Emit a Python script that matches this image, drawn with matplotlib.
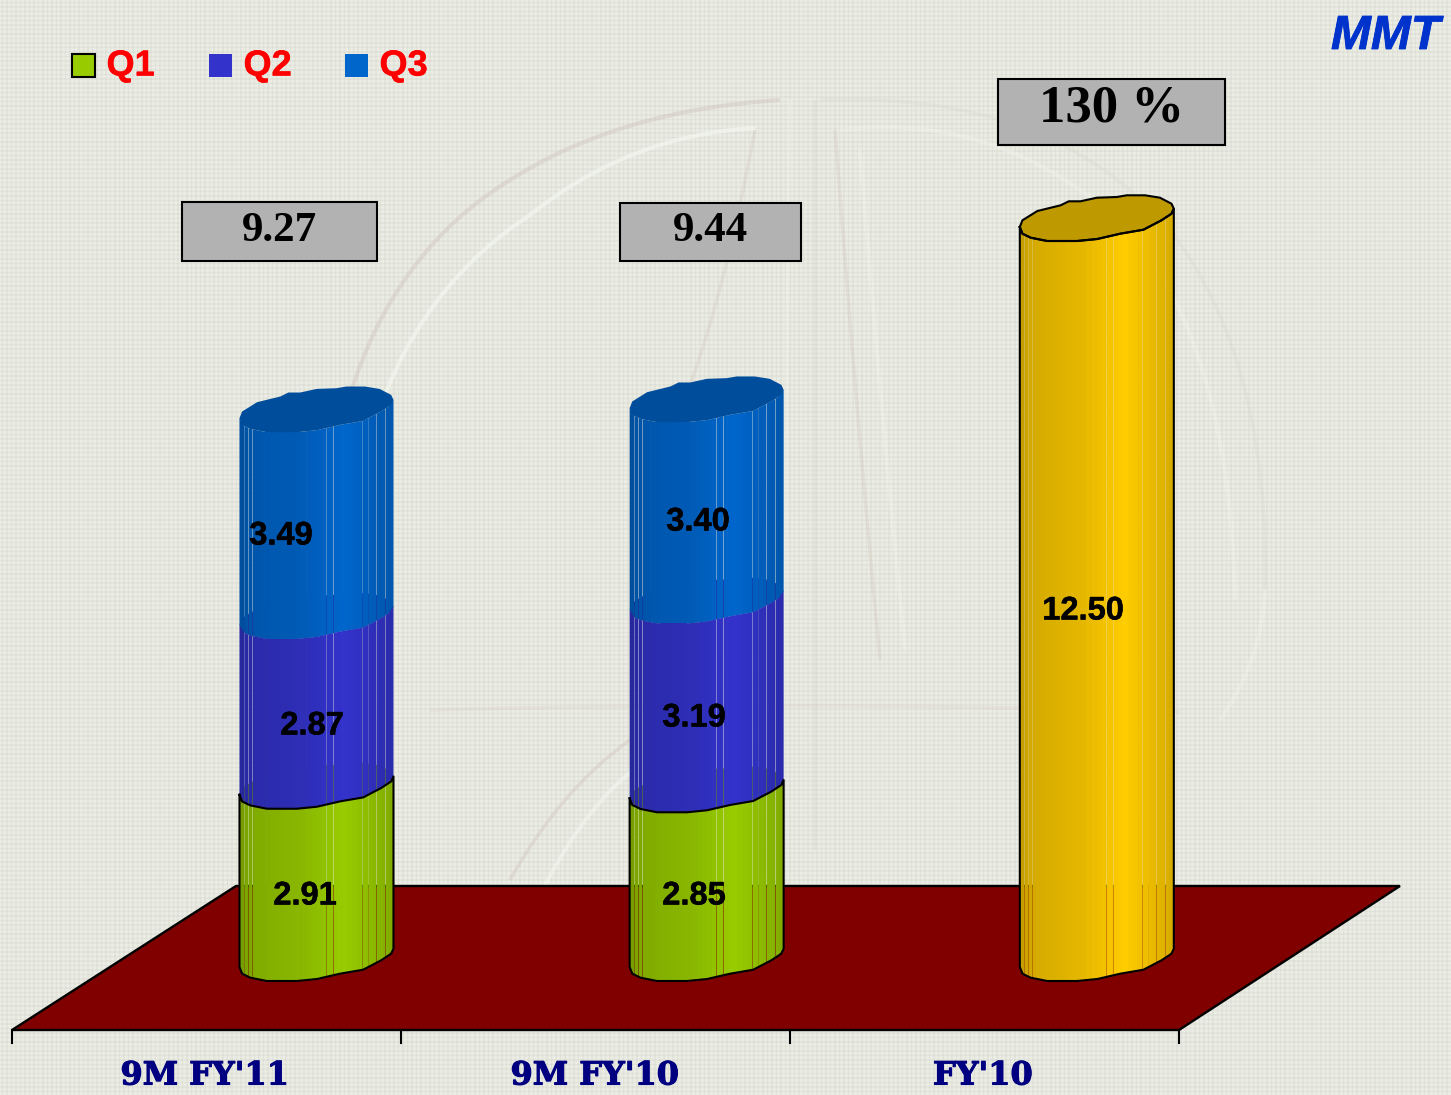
import numpy as np
import matplotlib
matplotlib.use("Agg")
import matplotlib.pyplot as plt
import matplotlib.patheffects as pe
from matplotlib.patches import Polygon, Rectangle, PathPatch
from matplotlib.path import Path

categories = ["9M FY'11", "9M FY'10", "FY'10"]
q1 = [2.91, 2.85]
q2 = [2.87, 3.19]
q3 = [3.49, 3.40]
fy_total = 12.50
box_labels = ["9.27", "9.44", "130 %"]
legend_names = ["Q1", "Q2", "Q3"]

W, H = 1451, 1095
px_per_cat = 389.0
px_per_val = 59.2
x0_px = 11.5
y0_px = 967.0
half_w = 77.0 / px_per_cat
cyl_offset = [0.784, 0.787, 0.79]

# outline of a column end, px relative to its left end (x fraction, px upward)
front_f = [0, .017, .071, .178, .372, .503, .652, .803, .92, .985, 1]
front_d = [0, -6.7, -10.7, -14, -14, -12, -6.7, -2.7, 6.7, 13.3, 18.3]
back_f = [0, .017, .114, .265, .318, .394, .501, .63, .695, .813, .91, .985, 1]
back_d = [0, 6.7, 16, 21.7, 25.7, 25.7, 29.3, 30, 31.7, 31.7, 29.3, 23.3, 18.3]
seams = np.array([5, 9, 13, 87, 94, 113, 123, 129, 137, 146]) / 154.0

green = "#99CC00"
purple = "#3333CC"
blue = "#0066CC"
yellow = "#FFCC00"
maroon = "#800000"

fig = plt.figure(figsize=(W / 100, H / 100), dpi=100)
bg = fig.add_axes([0, 0, 1, 1])
bg.set_xlim(0, W)
bg.set_ylim(H, 0)
bg.axis("off")

# paper texture
bg.add_patch(Rectangle((0, 0), W, H, fc="#EBECE4", ec="none", zorder=0))
for i, y in enumerate(np.arange(2, H, 4.5)):
    bg.plot([0, W], [y, y], color="#CFD0C4", lw=1.3 if i % 2 else 0.8, alpha=0.3, zorder=1)
for i, x in enumerate(np.arange(2, W, 4.5)):
    bg.plot([x, x], [0, H], color="#CFD0C4", lw=1.3 if i % 2 else 0.8, alpha=0.3, zorder=1)


def wm(points, color, lw=3, alpha=0.3):
    codes = [Path.MOVETO] + [Path.CURVE3] * (len(points) - 1)
    bg.add_patch(PathPatch(Path(points, codes), fc="none", ec=color, lw=lw, alpha=alpha, zorder=2))


# faint logo behind the chart
pink = "#D0C4BC"
white = "#F6FAF2"
wm([(350, 395), (395, 250), (510, 180), (620, 110), (780, 100)], pink, alpha=0.45)
wm([(385, 395), (430, 280), (530, 215), (630, 135), (755, 128)], white, alpha=0.6)
wm([(755, 130), (725, 290), (690, 385)], pink, lw=2.5)
wm([(790, 100), (785, 500), (782, 850)], white, lw=2.5)
wm([(815, 100), (815, 500), (815, 850)], "#D4D3C8", lw=2.5)
wm([(840, 130), (1000, 110), (1130, 230), (1230, 350), (1235, 600)], white)
wm([(820, 100), (1050, 90), (1170, 230), (1270, 360), (1265, 590)], "#D8D7CC", lw=2.5)
wm([(1265, 590), (1262, 660), (1220, 720)], white)
wm([(860, 150), (880, 400), (905, 650)], white)
wm([(835, 130), (855, 400), (880, 660)], pink, lw=2.5)
wm([(430, 710), (800, 700), (1180, 712)], "#D8D0C8", lw=2.5)
wm([(510, 880), (560, 790), (630, 740)], pink, lw=2.5, alpha=0.4)
wm([(545, 885), (590, 800), (640, 765)], white, alpha=0.5)

# floor
bg.add_patch(Polygon([(12, 1030), (1179, 1030), (1400, 886), (236, 886)], closed=True,
                     fc=maroon, ec="black", lw=1.7, zorder=3, joinstyle="miter"))
for t in range(len(categories) + 1):
    xt = x0_px + t * px_per_cat
    bg.plot([xt, xt], [1030, 1043], color="black", lw=1.5, zorder=3)

# chart axes share the figure, value scale set so the columns sit on the floor
ax = fig.add_axes([0, 0, 1, 1], facecolor="none")
ax.set_xlim(-x0_px / px_per_cat, (W - x0_px) / px_per_cat)
ax.set_ylim((y0_px - H) / px_per_val, y0_px / px_per_val)
ax.axis("off")


def shade(f):
    return np.interp(f, [0, .03, .1, .42, .68, 1], [.74, .8, .84, .9, 1.0, .84])


def scaled(color, k):
    return tuple(c * k for c in matplotlib.colors.to_rgb(color))


def wall(cx, v0, v1, color, seam_px=0.4):
    left = cx - half_w
    gap = seam_px / (2 * half_w * px_per_cat)
    fr = np.unique(np.concatenate([np.linspace(0, 1, 31), seams]))
    for a, b in zip(fr[:-1], fr[1:]):
        hi = b - gap if np.any(np.isclose(b, seams)) else min(b + 0.7 * 1.0 / 154, 1)
        xs = np.array([a, hi])
        low = v0 + np.interp(xs, front_f, front_d) / px_per_val
        top = v1 + np.interp(xs, front_f, front_d) / px_per_val
        px = left + xs * 2 * half_w
        ax.fill([px[0], px[1], px[1], px[0]], [low[0], low[1], top[1], top[0]],
                fc=scaled(color, shade((a + b) / 2)), ec="none", zorder=3)


def end_outline(cx, v):
    fb = np.array(back_f)
    ff = np.array(front_f)[::-1]
    xs = np.concatenate([fb, ff]) * 2 * half_w + cx - half_w
    ys = v + np.concatenate([back_d, np.array(front_d)[::-1]]) / px_per_val
    return xs, ys


def cap(cx, v, color, k):
    xs, ys = end_outline(cx, v)
    ax.fill(xs, ys, fc=scaled(color, k), ec="none", zorder=3)


def front_line(cx, v):
    return (np.array(front_f) * 2 * half_w + cx - half_w,
            v + np.array(front_d) / px_per_val)


def box_outline(cx, v0, v1):
    xa, ya = front_line(cx, v0)
    xb, yb = front_line(cx, v1)
    ax.plot(np.concatenate([xb[:1], xa, xb[::-1]]),
            np.concatenate([yb[:1], ya, yb[::-1]]),
            color="black", lw=1.5, zorder=5, solid_joinstyle="round")


for i in range(2):
    cx = i + cyl_offset[i]
    b1 = q1[i]
    b2 = b1 + q2[i]
    b3 = b2 + q3[i]
    cap(cx, b1, green, 0.75)
    wall(cx, 0, b1, green)
    cap(cx, b2, purple, 0.75)
    wall(cx, b1, b2, purple)
    wall(cx, b2, b3, blue)
    cap(cx, b3, blue, 0.76)
    box_outline(cx, 0, b1)

cx = 2 + cyl_offset[2]
wall(cx, 0, fy_total, yellow, seam_px=0.2)
cap(cx, fy_total, yellow, 0.75)
box_outline(cx, 0, fy_total)
xs, ys = end_outline(cx, fy_total)
ax.plot(xs, ys, color="black", lw=1.5, zorder=5)

# value labels, pixel anchors
sans = "Liberation Sans"
serif = "Liberation Serif"
thicken = [pe.withStroke(linewidth=0.35, foreground="black")]
lab_vals = [q3[0], q2[0], q1[0], q3[1], q2[1], q1[1], fy_total]
lab_pos = [(281, 536), (312, 726), (305, 896), (698, 522), (694, 718), (694, 896), (1083, 611)]
for v, (lx, ly) in zip(lab_vals, lab_pos):
    ax.text(lx, ly, f"{v:.2f}", transform=bg.transData, family=sans, weight="bold",
            fontsize=23.5, ha="center", va="center", color="black", zorder=6, path_effects=thicken)

# total boxes
boxes = [(182, 202, 195, 59), (620, 203, 181, 58), (998, 79, 227, 66)]
box_text_y = [231, 231, 109]
box_text_x = [279, 710, 1112]
box_font = [31, 31, 38]
for (bx, by, bw, bh), s, tx, ty, fs in zip(boxes, box_labels, box_text_x, box_text_y, box_font):
    ax.add_patch(Rectangle((bx, by), bw, bh, transform=bg.transData, fc="#B2B2B2", ec="black",
                           lw=1.5, zorder=6))
    ax.text(tx, ty, s, transform=bg.transData, family=serif, weight="bold", fontsize=fs,
            ha="center", va="center", color="black", zorder=7)

# legend
leg_x = [72, 209, 345]
leg_col = [green, purple, blue]
leg_ec = ["black", "none", "none"]
for lx, name, c, e in zip(leg_x, legend_names, leg_col, leg_ec):
    ax.add_patch(Rectangle((lx, 54), 22.5, 22.5, transform=bg.transData, fc=c, ec=e, lw=1.5, zorder=6))
    ax.text(lx + 34.5, 66, name, transform=bg.transData, family=sans, weight="bold", fontsize=26,
            ha="left", va="center", color="#FF0000", zorder=6,
            path_effects=[pe.withStroke(linewidth=0.35, foreground="#FF0000")])

ax.text(1440, 49, "MMT", transform=bg.transData, family=sans, weight="bold", style="italic",
        fontsize=34.5, ha="right", va="baseline", color="#0033CC", zorder=6,
        path_effects=[pe.withStroke(linewidth=0.6, foreground="#0033CC")])

# category labels
cat_x = [205, 595, 983]
for tx, s in zip(cat_x, categories):
    ax.text(tx, 1076, s, transform=bg.transData, family="DejaVu Serif", weight="bold", fontsize=23,
            ha="center", va="center", color="#000080", zorder=6,
            path_effects=[pe.withStroke(linewidth=0.8, foreground="#000080")])

plt.savefig("out.png", dpi=100)
